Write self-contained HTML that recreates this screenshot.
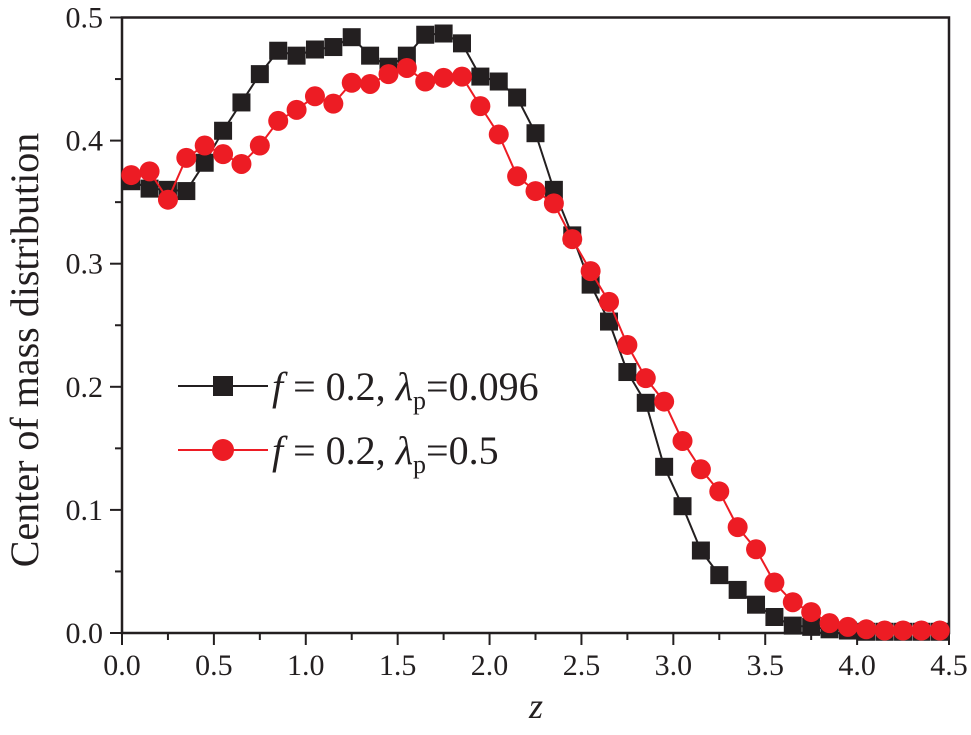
<!DOCTYPE html>
<html><head><meta charset="utf-8"><style>
body{margin:0;background:#fff}
svg text{font-family:"Liberation Serif",serif;fill:#231f20}
</style></head><body>
<svg id="c" width="971" height="730" xmlns="http://www.w3.org/2000/svg"></svg>
<script>
const zValues=[0.05,0.15,0.25,0.35,0.45,0.55,0.65,0.75,0.85,0.95,1.05,1.15,1.25,1.35,1.45,1.55,1.65,1.75,1.85,1.95,2.05,2.15,2.25,2.35,2.45,2.55,2.65,2.75,2.85,2.95,3.05,3.15,3.25,3.35,3.45,3.55,3.65,3.75,3.85,3.95,4.05,4.15,4.25,4.35,4.45];
const blackSeries=[0.367,0.361,0.360,0.359,0.382,0.408,0.431,0.454,0.473,0.469,0.474,0.476,0.484,0.469,0.460,0.469,0.486,0.487,0.479,0.452,0.448,0.435,0.406,0.360,0.323,0.283,0.253,0.212,0.187,0.135,0.103,0.067,0.047,0.035,0.023,0.013,0.006,0.005,0.003,0.002,0.001,0.001,0.001,0.001,0.001];
const redSeries=[0.372,0.375,0.352,0.386,0.396,0.389,0.381,0.396,0.416,0.425,0.436,0.430,0.447,0.446,0.454,0.459,0.448,0.451,0.452,0.428,0.405,0.371,0.359,0.349,0.320,0.294,0.269,0.234,0.207,0.188,0.156,0.133,0.115,0.086,0.068,0.041,0.025,0.017,0.008,0.005,0.003,0.002,0.002,0.002,0.002];
const xTicks=["0.0","0.5","1.0","1.5","2.0","2.5","3.0","3.5","4.0","4.5"];
const yTicks=["0.0","0.1","0.2","0.3","0.4","0.5"];
const NS="http://www.w3.org/2000/svg";
const svg=document.getElementById('c');
const X0=122,X1=949,Y0=633,Y1=17.5;
const sx=v=>X0+(v/4.5)*(X1-X0);
const sy=v=>Y0-(v/0.5)*(Y0-Y1);
function mk(t,a,p){const e=document.createElementNS(NS,t);for(const k in a)e.setAttribute(k,a[k]);(p||svg).appendChild(e);return e;}
const fr=mk('rect',{x:X0,y:Y1,width:X1-X0,height:Y0-Y1,fill:'none',stroke:'#231f20','stroke-width':2.5});


for(let i=0;i<=18;i++){const v=i*0.25,x=sx(v);const major=i%2==0;
 const t=mk('line',{x1:x,x2:x,y1:Y0,y2:Y0+(major?12:7),stroke:'#231f20','stroke-width':2});
 
 }
xTicks.forEach(s=>{const t=mk('text',{x:sx(parseFloat(s)),y:675,'font-size':30,'text-anchor':'middle'});t.textContent=s;
 
 });
for(let i=0;i<=10;i++){const v=i*0.05,y=sy(v);const major=i%2==0;
 const t=mk('line',{x1:X0-(major?12:7),x2:X0,y1:y,y2:y,stroke:'#231f20','stroke-width':2});
 
 }
yTicks.forEach(s=>{const t=mk('text',{x:103,y:sy(parseFloat(s))+10,'font-size':30,'text-anchor':'end'});t.textContent=s;
 
 });
const xt=mk('text',{x:536,y:718,'font-size':36,'font-style':'italic','text-anchor':'middle'});xt.textContent='z';


const yt=mk('text',{x:0,y:0,'font-size':40,'text-anchor':'middle',transform:'translate(38,350) rotate(-90)'});yt.textContent='Center of mass distribution';


function series(vals,color,shape,name){
 const g=mk('g',{});
 
 
 const pts=vals.map((v,i)=>sx(zValues[i])+','+sy(v)).join(' ');
 mk('polyline',{points:pts,fill:'none',stroke:color,'stroke-width':2},g);
 vals.forEach((v,i)=>{let m;
  if(shape=='sq')m=mk('rect',{x:sx(zValues[i])-9,y:sy(v)-9,width:18,height:18,fill:color},g);
  else m=mk('circle',{cx:sx(zValues[i]),cy:sy(v),r:10,fill:color},g);
  
  });
}
series(blackSeries,'#231f20','sq','series-lambda-0096');
series(redSeries,'#ed1c24','ci','series-lambda-05');
function legend(y,color,shape,lam,name){
 const g=mk('g',{});
 
 
 mk('line',{x1:178,x2:268,y1:y,y2:y,stroke:color,'stroke-width':2},g);
 if(shape=='sq')mk('rect',{x:213,y:y-10,width:20,height:20,fill:color},g);
 else mk('circle',{cx:223,cy:y,r:11,fill:color},g);
 const t=mk('text',{x:272,y:y+14,'font-size':40},g);
 t.innerHTML='<tspan font-style="italic">f</tspan> = 0.2, <tspan font-style="italic">λ</tspan><tspan font-size="26" dy="9">p</tspan><tspan dy="-9">='+lam+'</tspan>';
}
legend(386,'#231f20','sq','0.096','legend-entry-black');
legend(450,'#ed1c24','ci','0.5','legend-entry-red');
</script>
</body></html>
